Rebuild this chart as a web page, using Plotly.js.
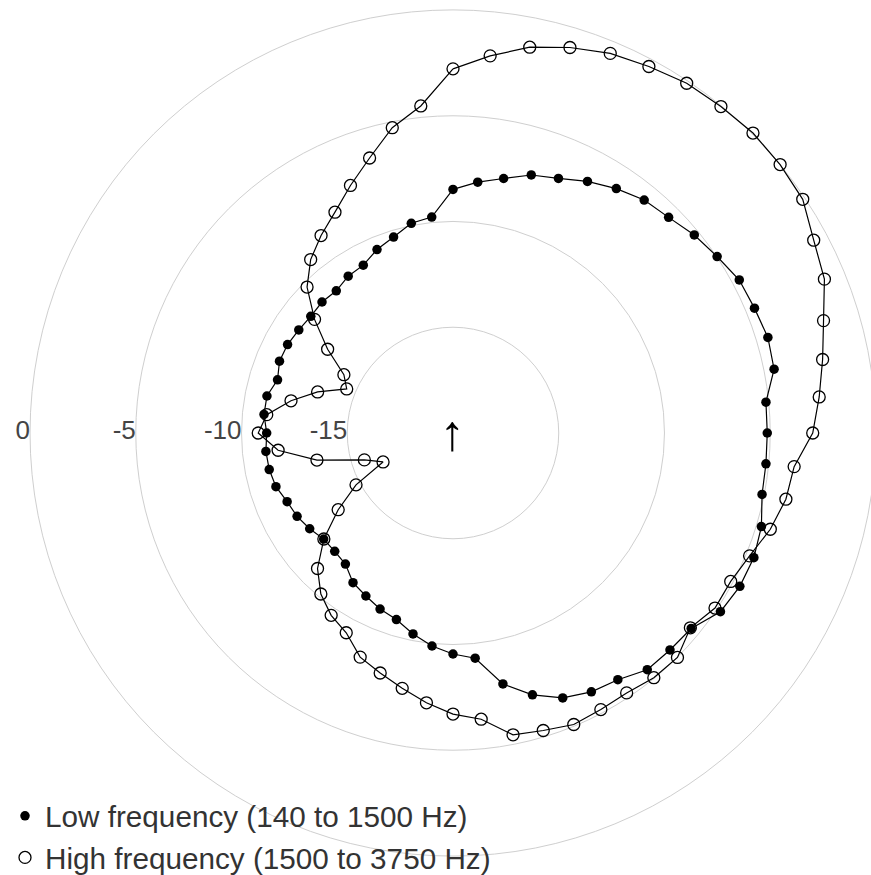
<!DOCTYPE html>
<html>
<head>
<meta charset="utf-8">
<script src="https://cdn.plot.ly/plotly-3.0.1.min.js"></script>
<style>
  html, body { margin: 0; padding: 0; overflow: hidden; background: #fff; }
  #chart { width: 900px; height: 875px; }
</style>
</head>
<body>
<div id="chart"></div>
<script>
// Azimuth of each measurement (degrees, clockwise from the front/up arrow)
const thetaDeg = [0, 5.625, 11.25, 16.875, 22.5, 28.125, 33.75, 39.375, 45, 50.625, 56.25, 61.875,
  67.5, 73.125, 78.75, 84.375, 90, 95.625, 101.25, 106.875, 112.5, 118.125, 123.75, 129.375,
  135, 140.625, 146.25, 151.875, 157.5, 163.125, 168.75, 174.375, 180, 185.625, 191.25, 196.875,
  202.5, 208.125, 213.75, 219.375, 225, 230.625, 236.25, 241.875, 247.5, 253.125, 258.75, 264.375,
  270, 275.625, 281.25, 286.875, 292.5, 298.125, 303.75, 309.375, 315, 320.625, 326.25, 331.875,
  337.5, 343.125, 348.75, 354.375];

// Low frequency (140 to 1500 Hz), dB
const lowDb = [-8.48, -8.08, -7.73, -7.25, -6.97, -6.51, -6.10, -5.75, -5.58, -5.24, -4.98, -4.65,
  -4.57, -4.44, -4.52, -5.13, -5.14, -5.13, -5.10, -4.76, -4.60, -4.62, -4.79, -5.43,
  -5.49, -5.52, -5.97, -6.12, -6.44, -7.06, -7.90, -9.30, -9.55, -9.88, -10.31, -10.78,
  -10.99, -11.26, -11.49, -11.98, -12.09, -12.09, -11.85, -11.64, -11.51, -11.25, -11.14, -11.11,
  -11.19, -11.02, -11.03, -11.33, -11.12, -11.13, -11.23, -11.30, -11.24, -11.30, -11.08, -11.00,
  -10.61, -10.32, -9.89, -9.74];

// High frequency (1500 to 3750 Hz), dB
const highDb = [-2.78, -2.08, -1.40, -0.95, -0.57, -0.35, -0.11, -0.03, 0.06, 0.01, -0.11, -0.66,
  -0.99, -1.69, -2.18, -2.60, -2.99, -3.79, -3.95, -4.32, -4.82, -5.11, -5.10, -5.48,
  -4.99, -5.03, -5.22, -5.17, -5.08, -5.30, -5.45, -6.40, -6.71, -7.18, -7.69, -8.14,
  -8.53, -9.29, -9.63, -10.15, -10.94, -12.10, -13.47, -14.80, -16.42, -15.62, -13.44, -11.69,
  -10.79, -11.15, -12.19, -13.31, -14.56, -14.15, -12.87, -11.53, -10.24, -9.39, -8.77, -8.16,
  -7.33, -6.41, -5.28, -4.46];

const seriesNames = ['Low frequency (140 to 1500 Hz)', 'High frequency (1500 to 3750 Hz)'];
const radialTickVals = [0, -5, -10, -15];
const radialTickText = ['0', '-5', '-10', '-15'];
const labelTheta = [270, 270, 270, 270];

const FONT = 'Liberation Sans, Arial, sans-serif';
const close = a => a.concat([a[0]]);

const traces = [
  { type: 'scatterpolar', mode: 'text', r: radialTickVals, theta: labelTheta,
    text: radialTickText, textposition: 'middle left', cliponaxis: false,
    textfont: { family: FONT, size: 26, color: '#444' }, showlegend: false, hoverinfo: 'skip' },
  { type: 'scatterpolar', mode: 'lines', r: close(lowDb), theta: close(thetaDeg),
    line: { color: '#000', width: 1.2 }, showlegend: false, hoverinfo: 'skip', cliponaxis: false },
  { type: 'scatterpolar', mode: 'lines', r: close(highDb), theta: close(thetaDeg),
    line: { color: '#000', width: 1.2 }, showlegend: false, hoverinfo: 'skip', cliponaxis: false },
  { type: 'scatterpolar', mode: 'markers', r: lowDb, theta: thetaDeg, name: seriesNames[0],
    marker: { symbol: 'circle', size: 9.5, color: '#000', line: { width: 0 } }, cliponaxis: false },
  { type: 'scatterpolar', mode: 'markers', r: highDb, theta: thetaDeg, name: seriesNames[1],
    marker: { symbol: 'circle-open', size: 12, color: '#000', line: { width: 1.3 } }, cliponaxis: false }
];

const W = 900, H = 875;
const cx = 453, cy = 433, R = 429.3;

const layout = {
  width: W, height: H,
  margin: { l: 0, r: 0, t: 0, b: 0, pad: 0, autoexpand: false },
  paper_bgcolor: '#fff',
  font: { family: FONT, color: '#444' },
  showlegend: true,
  legend: {
    x: 5 / W, xanchor: 'left', y: -9 / H, yanchor: 'bottom',
    bgcolor: 'rgba(0,0,0,0)', borderwidth: 0,
    font: { family: FONT, size: 29.7, color: '#333' },
    traceorder: 'normal'
  },
  polar: {
    domain: { x: [(cx - R) / W, (cx + R) / W], y: [(H - cy - R) / H, (H - cy + R) / H] },
    bgcolor: 'rgba(0,0,0,0)',
    angularaxis: { rotation: 90, direction: 'clockwise', showgrid: false, showline: false,
      showticklabels: false, ticks: '' },
    radialaxis: { range: [-20, 0.3], tickmode: 'array', tickvals: radialTickVals,
      showticklabels: false, ticks: '', showline: false, angle: 180,
      gridcolor: '#cfcfcf', gridwidth: 1 }
  },
  annotations: [{
    xref: 'paper', yref: 'paper', x: cx / W, y: (H - cy) / H,
    xanchor: 'center', yanchor: 'middle', showarrow: false,
    text: '↑', font: { family: FONT, size: 50, color: '#000' }
  }]
};

Plotly.newPlot('chart', traces, layout, { displayModeBar: false, staticPlot: true });
</script>
</body>
</html>
